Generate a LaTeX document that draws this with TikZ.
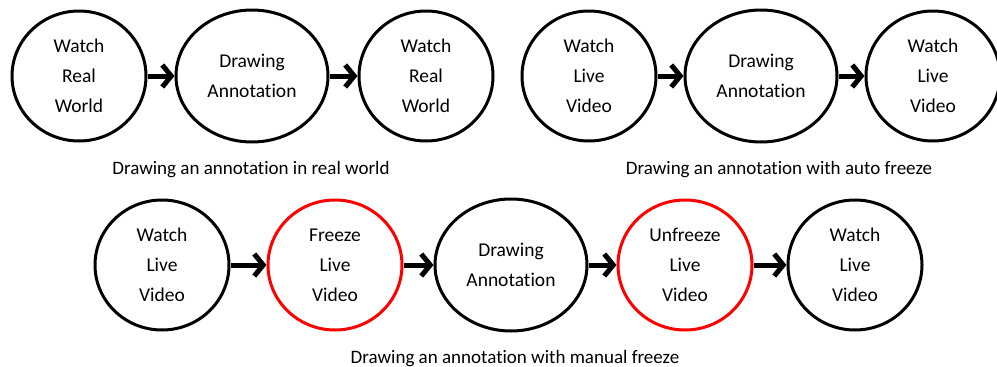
\documentclass[tikz,border=0pt]{standalone}
\usepackage{fontspec}
\setmainfont{Carlito}[Ligatures=NoCommon]
\usetikzlibrary{arrows.meta,shapes.geometric}

\begin{document}
\begin{tikzpicture}[x=1pt,y=-1pt,
	etapa/.style = {fill=white,ellipse,draw,line width=3pt,minimum width=134pt,minimum height=130pt,inner sep=0pt,align=center,font=\fontsize{19.5}{30}\selectfont},
	oval/.style = {etapa,minimum width=152pt,minimum height=132pt},
	congela/.style = {etapa,draw=red},
	legenda/.style = {anchor=base,font=\fontsize{19}{23}\selectfont},
	seta/.style = {line width=5pt,-{Straight Barb[length=9pt,width=22pt]}}]
	\useasboundingbox (0,0) rectangle (997,367);
	\clip (0,0) rectangle (997,367);

	% tracking with the naked eye
	\node[etapa] (A1) at (79,76) {Watch\\Real\\World};
	\node[oval] (A2) at (252,76) {Drawing\\Annotation};
	\node[etapa] (A3) at (426,76) {Watch\\Real\\World};
	\node[legenda] (LA) at (251,174) {Drawing an annotation in real world};

	% auto freeze
	\node[etapa] (B1) at (589,76) {Watch\\Live\\Video};
	\node[oval] (B2) at (761,76) {Drawing\\Annotation};
	\node[etapa] (B3) at (933,76) {Watch\\Live\\Video};
	\node[legenda] (LB) at (779,174) {Drawing an annotation with auto freeze};

	% manual freeze
	\node[etapa] (C1) at (162,265) {Watch\\Live\\Video};
	\node[congela] (C2) at (335,265) {Freeze\\Live\\Video};
	\node[oval] (C3) at (511,265) {Drawing\\Annotation};
	\node[congela] (C4) at (685,265) {Unfreeze\\Live\\Video};
	\node[etapa] (C5) at (855,265) {Watch\\Live\\Video};
	\node[legenda] (LC) at (515,363) {Drawing an annotation with manual freeze};

	\draw[seta] (A1) -- (A2);
	\draw[seta] (A2) -- (A3);
	\draw[seta] (B1) -- (B2);
	\draw[seta] (B2) -- (B3);
	\draw[seta] (C1) -- (C2);
	\draw[seta] (C2) -- (C3);
	\draw[seta] (C3) -- (C4);
	\draw[seta] (C4) -- (C5);
\end{tikzpicture}
\end{document}
